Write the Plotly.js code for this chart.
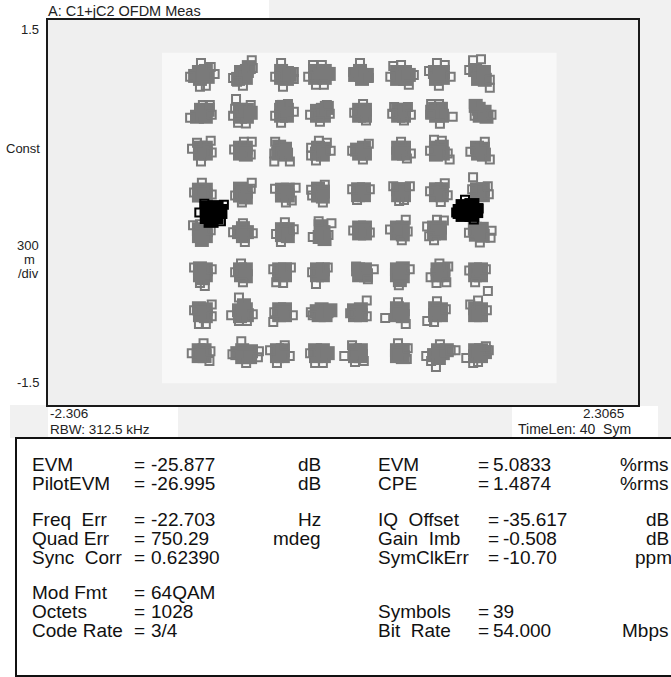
<!DOCTYPE html>
<html>
<head>
<meta charset="utf-8">
<script src="https://cdn.plot.ly/plotly-3.0.1.min.js"></script>
<style>
  html, body { margin: 0; padding: 0; background: #ffffff; }
  #chart { width: 671px; height: 677px; }
</style>
</head>
<body>
<div id="chart"></div>
<script>
// 64QAM OFDM constellation (I = C1, Q = C2), one row of symbol clusters per Q level.
// "core" points form the dense centre of each cluster, "spread" points are the scattered outliers.
const row1Core = [[-1.126,1.095],[-1.072,1.103],[-1.057,1.057],[-1.118,1.041],[-1.156,1.064],[-1.087,1.072],
  [-0.820,1.041],[-0.782,1.072],[-0.751,1.103],[-0.797,1.095],[-0.759,1.049],[-0.736,1.133],
  [-0.484,1.103],[-0.438,1.087],[-0.484,1.049],[-0.438,1.041],[-0.461,1.072],[-0.415,1.072],
  [-0.218,1.103],[-0.142,1.103],[-0.218,1.049],[-0.142,1.049],[-0.180,1.072],[-0.111,1.080],
  [0.095,1.072],[0.187,1.072],[0.133,1.103],[0.149,1.041],[0.141,1.072],
  [0.423,1.095],[0.485,1.095],[0.423,1.041],[0.485,1.041],[0.454,1.072],[0.515,1.072],
  [0.719,1.095],[0.781,1.095],[0.727,1.041],[0.781,1.049],[0.750,1.072],
  [1.033,1.110],[1.071,1.072],[1.109,1.034],[1.056,1.041],[1.102,1.095]];
const row1Spread = [[-1.195,1.057],[-1.118,0.980],[-1.072,0.988],[-1.110,1.164],[-1.003,1.080],[-1.034,1.133],
  [-0.713,1.187],[-0.705,1.126],[-0.782,0.988],[-0.859,1.049],[-0.828,1.018],
  [-0.484,1.164],[-0.384,1.095],[-0.384,1.041],[-0.469,0.980],[-0.530,1.057],
  [-0.234,1.149],[-0.272,1.057],[-0.211,0.995],[-0.149,0.995],[-0.165,1.149],
  [0.133,1.164],[0.080,1.095],[0.202,1.049],
  [0.393,1.141],[0.554,1.072],[0.515,0.995],[0.370,1.057],[0.454,1.149],
  [0.735,1.164],[0.796,1.149],[0.842,1.057],[0.750,0.988],[0.673,1.103],
  [1.017,1.187],[1.079,1.195],[0.987,1.110],[1.148,0.972],[1.148,1.034]];

const row2Core = [[-1.141,0.746],[-1.095,0.777],[-1.057,0.800],[-1.072,0.746],[-1.110,0.800],
  [-0.805,0.800],[-0.751,0.800],[-0.805,0.746],[-0.751,0.746],[-0.782,0.777],[-0.721,0.777],
  [-0.484,0.800],[-0.438,0.800],[-0.484,0.754],[-0.438,0.754],[-0.461,0.823],
  [-0.203,0.792],[-0.157,0.800],[-0.203,0.754],[-0.149,0.754],[-0.126,0.815],
  [0.126,0.800],[0.172,0.800],[0.126,0.754],[0.172,0.754],[0.149,0.777],
  [0.431,0.800],[0.477,0.800],[0.431,0.754],[0.477,0.754],[0.454,0.777],
  [0.720,0.808],[0.766,0.808],[0.728,0.754],[0.774,0.754],[0.697,0.785],
  [1.061,0.808],[1.107,0.785],[1.069,0.754],[1.122,0.746],[1.038,0.831]];
const row2Spread = [[-1.195,0.739],[-1.095,0.838],[-1.041,0.838],[-1.026,0.762],
  [-0.836,0.884],[-0.843,0.808],[-0.721,0.838],[-0.859,0.754],[-0.820,0.700],[-0.759,0.693],
  [-0.492,0.838],[-0.430,0.846],[-0.484,0.700],[-0.384,0.785],[-0.530,0.754],
  [-0.126,0.838],[-0.103,0.769],[-0.257,0.762],[-0.180,0.708],
  [0.157,0.846],[0.180,0.716],[0.088,0.777],
  [0.400,0.823],[0.508,0.823],[0.531,0.762],[0.477,0.716],[0.385,0.769],
  [0.689,0.846],[0.751,0.846],[0.858,0.746],[0.758,0.692],[0.682,0.762],
  [1.023,0.846],[1.161,0.762],[1.030,0.754]];

const row3Core = [[-1.118,0.505],[-1.072,0.505],[-1.118,0.459],[-1.072,0.459],[-1.095,0.482],
  [-0.805,0.505],[-0.759,0.505],[-0.805,0.459],[-0.759,0.451],[-0.782,0.482],
  [-0.499,0.513],[-0.453,0.497],[-0.507,0.459],[-0.445,0.451],[-0.476,0.482],
  [-0.195,0.505],[-0.149,0.497],[-0.203,0.459],[-0.157,0.451],[-0.180,0.482],
  [0.110,0.490],[0.164,0.505],[0.126,0.459],[0.172,0.459],[0.141,0.482],
  [0.431,0.505],[0.477,0.505],[0.431,0.459],[0.477,0.459],[0.454,0.482],
  [0.727,0.505],[0.773,0.513],[0.727,0.451],[0.781,0.459],[0.750,0.482],
  [1.048,0.505],[1.094,0.497],[1.056,0.459],[1.102,0.451],[1.071,0.482]];
const row3Spread = [[-1.034,0.559],[-1.180,0.497],[-1.110,0.398],[-1.026,0.467],[-1.141,0.543],
  [-0.713,0.551],[-0.851,0.490],[-0.774,0.551],[-0.721,0.451],
  [-0.537,0.398],[-0.415,0.398],[-0.530,0.551],[-0.537,0.459],
  [-0.249,0.505],[-0.249,0.444],[-0.188,0.559],[-0.126,0.543],[-0.211,0.405],[-0.096,0.482],
  [0.202,0.536],[0.072,0.482],[0.156,0.413],
  [0.531,0.459],[0.454,0.551],[0.500,0.420],
  [0.712,0.566],[0.773,0.559],[0.834,0.413],[0.819,0.459],[0.681,0.482],
  [1.109,0.551],[1.148,0.413],[0.996,0.474]];

const row4Core = [[-1.126,0.178],[-1.072,0.178],[-1.126,0.132],[-1.072,0.132],[-1.095,0.155],
  [-0.805,0.186],[-0.759,0.163],[-0.805,0.132],[-0.759,0.117],[-0.782,0.155],
  [-0.477,0.178],[-0.431,0.178],[-0.477,0.132],[-0.431,0.132],[-0.454,0.155],
  [-0.195,0.186],[-0.157,0.163],[-0.195,0.132],[-0.157,0.124],[-0.180,0.155],
  [0.118,0.181],[0.164,0.181],[0.118,0.135],[0.164,0.135],[0.141,0.158],
  [0.431,0.181],[0.477,0.181],[0.431,0.135],[0.477,0.135],[0.454,0.158],
  [0.727,0.181],[0.773,0.181],[0.727,0.135],[0.773,0.135],[0.750,0.158],
  [1.048,0.181],[1.094,0.181],[1.048,0.135],[1.094,0.135],[1.071,0.158]];
const row4Spread = [[-1.103,0.232],[-1.026,0.140],[-1.164,0.155],
  [-0.713,0.232],[-0.721,0.186],[-0.843,0.132],[-0.790,0.078],
  [-0.531,0.186],[-0.370,0.193],[-0.446,0.078],[-0.400,0.094],
  [-0.249,0.178],[-0.241,0.132],[-0.157,0.078],[-0.142,0.216],
  [0.072,0.181],[0.210,0.181],[0.110,0.097],
  [0.393,0.204],[0.523,0.204],[0.439,0.089],[0.477,0.097],
  [0.796,0.227],[0.765,0.081],[0.681,0.166],[0.819,0.135],
  [1.017,0.275],[1.132,0.204],[1.140,0.143],[1.010,0.181]];

const row5Core = [[-1.126,-0.130],[-1.072,-0.138],[-1.126,-0.184],[-1.072,-0.184],[-1.095,-0.153],[-1.103,-0.214],
  [-0.813,-0.153],[-0.751,-0.153],[-0.782,-0.122],[-0.782,-0.184],[-0.782,-0.153],
  [-0.477,-0.130],[-0.431,-0.130],[-0.477,-0.176],[-0.431,-0.184],[-0.454,-0.153],
  [-0.175,-0.107],[-0.152,-0.153],[-0.182,-0.191],[-0.144,-0.207],[-0.167,-0.153],
  [0.126,-0.117],[0.172,-0.117],[0.126,-0.163],[0.172,-0.163],[0.149,-0.140],
  [0.422,-0.117],[0.468,-0.117],[0.422,-0.163],[0.468,-0.171],[0.445,-0.140],
  [0.712,-0.117],[0.758,-0.117],[0.712,-0.163],[0.758,-0.163],[0.735,-0.140],
  [1.031,-0.127],[1.085,-0.127],[1.039,-0.173],[1.093,-0.181],[1.062,-0.150]];
const row5Spread = [[-1.172,-0.099],[-1.118,-0.092],[-1.034,-0.138],
  [-0.859,-0.153],[-0.705,-0.161],[-0.767,-0.230],[-0.782,-0.084],
  [-0.454,-0.076],[-0.385,-0.130],[-0.485,-0.230],[-0.523,-0.168],
  [-0.090,-0.084],[-0.236,-0.191],[-0.190,-0.069],[-0.113,-0.176],
  [0.080,-0.140],[0.210,-0.155],
  [0.491,-0.056],[0.368,-0.132],[0.460,-0.217],[0.506,-0.148],
  [0.658,-0.109],[0.674,-0.186],[0.789,-0.063],[0.735,-0.056],[0.712,-0.217],
  [1.162,-0.142],[1.154,-0.196],[1.070,-0.234],[0.985,-0.158]];

const row6Core = [[-1.118,-0.435],[-1.072,-0.443],[-1.118,-0.489],[-1.072,-0.489],[-1.095,-0.512],[-1.095,-0.466],
  [-0.805,-0.443],[-0.759,-0.443],[-0.797,-0.489],[-0.759,-0.497],[-0.782,-0.466],
  [-0.499,-0.443],[-0.453,-0.443],[-0.499,-0.489],[-0.453,-0.489],[-0.476,-0.466],
  [-0.203,-0.443],[-0.157,-0.443],[-0.203,-0.489],[-0.157,-0.489],[-0.180,-0.466],
  [0.118,-0.443],[0.172,-0.443],[0.126,-0.489],[0.180,-0.489],[0.149,-0.466],
  [0.422,-0.443],[0.468,-0.435],[0.422,-0.489],[0.468,-0.497],[0.445,-0.527],[0.445,-0.466],
  [0.739,-0.443],[0.785,-0.443],[0.739,-0.489],[0.785,-0.489],[0.762,-0.466],
  [1.033,-0.443],[1.079,-0.443],[1.033,-0.489],[1.079,-0.489],[1.056,-0.466]];
const row6Spread = [[-1.080,-0.573],[-1.118,-0.550],[-1.026,-0.443],[-1.164,-0.428],
  [-0.782,-0.543],[-0.843,-0.466],[-0.797,-0.397],
  [-0.522,-0.543],[-0.468,-0.550],[-0.545,-0.443],[-0.407,-0.428],
  [-0.211,-0.558],[-0.119,-0.428],[-0.241,-0.466],
  [0.241,-0.443],[0.103,-0.420],[0.195,-0.520],
  [0.522,-0.443],[0.437,-0.566],
  [0.685,-0.504],[0.731,-0.550],[0.808,-0.543],[0.823,-0.420],[0.754,-0.397],
  [1.117,-0.443],[1.033,-0.543],[1.133,-0.612],[0.987,-0.451]];

const row7Core = [[-1.126,-0.746],[-1.072,-0.754],[-1.118,-0.800],[-1.072,-0.808],[-1.095,-0.777],
  [-0.813,-0.762],[-0.759,-0.754],[-0.805,-0.808],[-0.751,-0.800],[-0.782,-0.777],[-0.774,-0.723],
  [-0.499,-0.754],[-0.453,-0.754],[-0.499,-0.800],[-0.453,-0.800],[-0.476,-0.777],
  [-0.205,-0.769],[-0.167,-0.754],[-0.129,-0.769],[-0.190,-0.800],[-0.136,-0.800],[-0.098,-0.762],
  [0.086,-0.762],[0.140,-0.754],[0.094,-0.800],[0.140,-0.800],[0.117,-0.777],
  [0.422,-0.746],[0.468,-0.754],[0.422,-0.800],[0.468,-0.808],[0.445,-0.777],
  [0.720,-0.746],[0.766,-0.754],[0.720,-0.800],[0.766,-0.800],[0.743,-0.777],
  [1.033,-0.746],[1.079,-0.754],[1.033,-0.800],[1.079,-0.800],[1.056,-0.777]];
const row7Spread = [[-1.026,-0.716],[-1.026,-0.808],[-1.126,-0.869],[-1.072,-0.869],[-1.164,-0.762],
  [-0.813,-0.662],[-0.874,-0.800],[-0.813,-0.846],[-0.751,-0.846],[-0.705,-0.792],
  [-0.545,-0.854],[-0.392,-0.800],[-0.537,-0.777],
  [-0.251,-0.777],[-0.236,-0.800],
  [0.186,-0.685],[0.186,-0.808],[0.056,-0.785],
  [0.330,-0.823],[0.491,-0.869],[0.430,-0.700],
  [0.659,-0.846],[0.712,-0.854],[0.735,-0.692],[0.804,-0.754],
  [1.056,-0.685],[0.995,-0.716],[1.125,-0.762]];

const row8Core = [[-1.128,-1.073],[-1.082,-1.073],[-1.128,-1.119],[-1.082,-1.119],[-1.105,-1.096],
  [-0.826,-1.096],[-0.788,-1.073],[-0.749,-1.096],[-0.719,-1.081],[-0.788,-1.127],[-0.726,-1.127],
  [-0.516,-1.073],[-0.470,-1.073],[-0.516,-1.119],[-0.470,-1.119],[-0.493,-1.096],
  [-0.218,-1.073],[-0.157,-1.073],[-0.211,-1.119],[-0.149,-1.119],[-0.180,-1.096],[-0.119,-1.096],
  [0.094,-1.073],[0.140,-1.073],[0.094,-1.119],[0.140,-1.119],[0.117,-1.096],
  [0.422,-1.073],[0.468,-1.073],[0.422,-1.119],[0.468,-1.127],[0.445,-1.096],
  [0.712,-1.111],[0.743,-1.073],[0.781,-1.096],[0.750,-1.134],[0.812,-1.073],
  [1.033,-1.073],[1.079,-1.073],[1.033,-1.119],[1.079,-1.119],[1.056,-1.096],[1.110,-1.088]];
const row8Spread = [[-1.182,-1.096],[-1.044,-1.157],[-1.090,-1.019],[-1.036,-1.081],
  [-0.795,-1.004],[-0.657,-1.081],[-0.665,-1.127],[-0.864,-1.104],[-0.757,-1.173],
  [-0.570,-1.073],[-0.416,-1.119],[-0.516,-1.173],[-0.455,-1.035],
  [-0.257,-1.096],[-0.218,-1.173],[-0.157,-1.173],
  [0.010,-1.119],[0.071,-1.035],[0.094,-1.165],[0.163,-1.157],
  [0.506,-1.058],[0.430,-1.019],[0.499,-1.142],
  [0.651,-1.119],[0.727,-1.203],[0.842,-1.073],[0.880,-1.073],[0.758,-1.027],[0.689,-1.157],
  [1.140,-1.073],[0.964,-1.134],[1.018,-1.173],[1.117,-1.042],[1.056,-1.165]];

// BPSK pilot carriers at +/-1 on the I axis
const pilotCore = [[-1.061,0.031],[-0.992,0.038],[-1.061,-0.031],[-0.992,-0.031],[-1.023,0.000],[-0.962,0.008],[-1.031,-0.061],
  [0.939,0.046],[1.008,0.054],[0.939,-0.015],[1.008,-0.015],[0.977,0.015],[1.038,0.015],[0.916,0.008]];
const pilotSpread = [[-1.123,0.000],[-0.931,0.061],[-0.954,-0.069],[-1.084,0.069],
  [0.885,0.000],[0.954,0.100],[1.061,0.031],[1.023,-0.054]];

// Display extents of the I axis and Q axis
const xSpan = [-2.306, 2.3065];
const ySpan = [-1.5, 1.5];

// Measurement summary table
const leftLabels = ['EVM', 'PilotEVM', 'Freq\u00a0\u00a0Err', 'Quad Err', 'Sync\u00a0\u00a0Corr', 'Mod Fmt', 'Octets', 'Code Rate'];
const leftValues = ['-25.877', '-26.995', '-22.703', '750.29', '0.62390', '64QAM', '1028', '3/4'];
const leftUnits = ['dB', 'dB', 'Hz', 'mdeg', '', '', '', ''];
const rightLabels = ['EVM', 'CPE', 'IQ\u00a0\u00a0Offset', 'Gain\u00a0\u00a0Imb', 'SymClkErr', '', 'Symbols', 'Bit\u00a0\u00a0Rate'];
const rightValues = ['5.0833', '1.4874', '-35.617', '-0.508', '-10.70', '', '39', '54.000'];
const rightUnits = ['%rms', '%rms', 'dB', 'dB', 'ppm', '', '', 'Mbps'];

// ---- geometry helpers (pixel -> paper coordinates) ----
const W = 671, H = 677;
const PL = 48, PR = 638, PT = 20, PB = 405;
const px = v => (v - PL) / (PR - PL);
const py = v => (PB - v) / (PB - PT);

const gray = '#7a7a7a';
const ink = '#222222';
const fontFam = '"Liberation Sans", Arial, Helvetica, sans-serif';

function pts(rows, i) { return rows.flat().map(p => p[i]); }
const coreRows = [row1Core, row2Core, row3Core, row4Core, row5Core, row6Core, row7Core, row8Core];
const spreadRows = [row1Spread, row2Spread, row3Spread, row4Spread, row5Spread, row6Spread, row7Spread, row8Spread];

const traces = [
  { type: 'scatter', mode: 'markers', x: pts(coreRows, 0), y: pts(coreRows, 1),
    marker: { symbol: 'square', size: 14, color: gray, line: { width: 0 } }, hoverinfo: 'skip' },
  { type: 'scatter', mode: 'markers', x: pts(spreadRows, 0), y: pts(spreadRows, 1),
    marker: { symbol: 'square-open', size: 8, color: gray, line: { width: 2, color: gray } }, hoverinfo: 'skip' },
  { type: 'scatter', mode: 'markers', x: pts([pilotCore], 0), y: pts([pilotCore], 1),
    marker: { symbol: 'square', size: 15, color: '#000000', line: { width: 0 } }, hoverinfo: 'skip' },
  { type: 'scatter', mode: 'markers', x: pts([pilotSpread], 0), y: pts([pilotSpread], 1),
    marker: { symbol: 'square-open', size: 8, color: '#000000', line: { width: 2, color: '#000000' } }, hoverinfo: 'skip' }
];

const shapes = [
  // shaded screen regions around the trace window
  { type: 'rect', xref: 'paper', yref: 'paper', x0: px(269), x1: px(W + 5), y0: py(PT), y1: py(-5), fillcolor: '#f1f1f1', line: { width: 0 }, layer: 'below' },
  { type: 'rect', xref: 'paper', yref: 'paper', x0: px(PR), x1: px(W + 5), y0: py(438), y1: py(PT), fillcolor: '#f1f1f1', line: { width: 0 }, layer: 'below' },
  { type: 'rect', xref: 'paper', yref: 'paper', x0: px(10), x1: px(W + 5), y0: py(438), y1: py(PB), fillcolor: '#f1f1f1', line: { width: 0 }, layer: 'below' },
  { type: 'rect', xref: 'paper', yref: 'paper', x0: px(PL), x1: px(178), y0: py(438), y1: py(PB + 1), fillcolor: '#ffffff', line: { width: 0 }, layer: 'below' },
  { type: 'rect', xref: 'paper', yref: 'paper', x0: px(512), x1: px(658), y0: py(438), y1: py(PB + 1), fillcolor: '#ffffff', line: { width: 0 }, layer: 'below' },
  // lighter inner area of the trace window
  { type: 'rect', xref: 'x', yref: 'y', x0: -1.415, x1: 1.67, y0: -1.33, y1: 1.245, fillcolor: '#f8f8f8', line: { width: 0 }, layer: 'below' },
  // measurement table frame
  { type: 'rect', xref: 'paper', yref: 'paper', x0: px(16), x1: px(W + 20), y0: py(676), y1: py(438), fillcolor: 'rgba(0,0,0,0)', line: { width: 2, color: '#111111' } }
];

function note(text, x, y, anchor, size, color) {
  return { text: text, xref: 'paper', yref: 'paper', x: px(x), y: py(y), xanchor: anchor || 'left', yanchor: 'middle',
    showarrow: false, font: { family: fontFam, size: size || 13, color: color || ink } };
}

const annotations = [
  note('1.5', 41, 29, 'right'),
  note('Const', 4, 148, 'left'),
  note('300', 41, 245, 'right'),
  note('m', 37, 259, 'right'),
  note('/div', 41, 273, 'right'),
  note('-1.5', 41, 382, 'right'),
  note(String(xSpan[0]), 48, 414, 'left', 13.5),
  note('RBW: 312.5 kHz', 48, 429, 'left', 13.5),
  note(String(xSpan[1]), 626, 414, 'right', 13.5),
  note('TimeLen: 40\u00a0\u00a0Sym', 516, 429, 'left', 14)
];

// table rows: two blocks of measurements separated by blank lines
const rowY = [464, 483, 519, 538, 557, 592, 611, 630];
const tSize = 19;
const tInk = '#111111';
rowY.forEach((y, i) => {
  annotations.push(note(leftLabels[i], 30, y, 'left', tSize, tInk));
  annotations.push(note('=', 132, y, 'left', tSize, tInk));
  annotations.push(note(leftValues[i], 149, y, 'left', tSize, tInk));
  if (leftUnits[i]) annotations.push(note(leftUnits[i], 323, y, 'right', tSize, tInk));
  if (rightLabels[i]) {
    const wide = i >= 2 && i <= 4;
    annotations.push(note(rightLabels[i], 376, y, 'left', tSize, tInk));
    annotations.push(note('=', wide ? 486 : 476, y, 'left', tSize, tInk));
    annotations.push(note(rightValues[i], wide ? 501 : 491, y, 'left', tSize, tInk));
  }
  if (rightUnits[i]) {
    const ux = { '%rms': 618, 'dB': 644, 'ppm': 633, 'Mbps': 620 }[rightUnits[i]];
    annotations.push(note(rightUnits[i], ux, y, 'left', tSize, tInk));
  }
});

const layout = {
  width: W, height: H,
  margin: { l: PL, r: W - PR, t: PT, b: H - PB, pad: 0 },
  paper_bgcolor: '#ffffff',
  plot_bgcolor: '#efefef',
  showlegend: false,
  title: { text: 'A: C1+jC2 OFDM Meas', x: px(48), xref: 'paper', xanchor: 'left', y: 1 - 11 / H, yanchor: 'middle',
    font: { family: fontFam, size: 14.5, color: ink } },
  xaxis: { range: xSpan, showgrid: false, zeroline: false, showticklabels: false, ticks: '',
    showline: true, mirror: true, linecolor: '#1a1a1a', linewidth: 2, fixedrange: true },
  yaxis: { range: ySpan, showgrid: false, zeroline: false, showticklabels: false, ticks: '',
    showline: true, mirror: true, linecolor: '#1a1a1a', linewidth: 2, fixedrange: true },
  shapes: shapes,
  annotations: annotations
};

Plotly.newPlot('chart', traces, layout, { displayModeBar: false, staticPlot: true });
</script>
</body>
</html>
